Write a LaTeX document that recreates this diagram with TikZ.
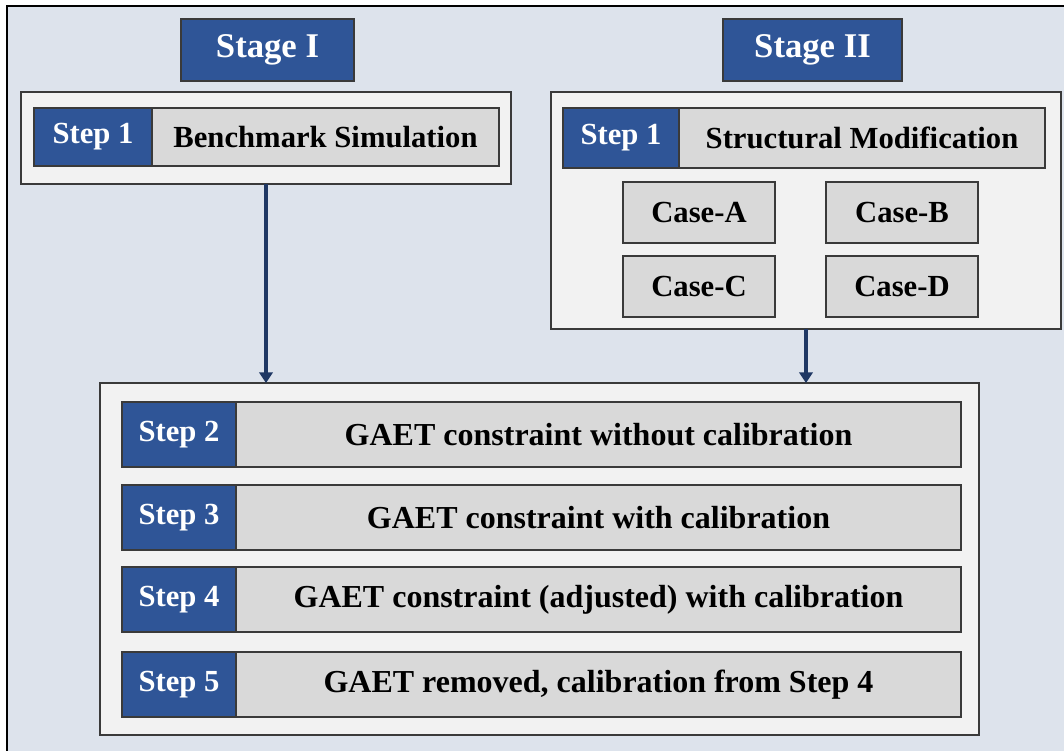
\documentclass[tikz,border=0pt]{standalone}
\usepackage{fontspec}
\setmainfont{Liberation Serif}
\usetikzlibrary{positioning,arrows.meta}
\definecolor{stageblue}{HTML}{2F5597}
\definecolor{boxgray}{HTML}{D9D9D9}
\definecolor{panelwhite}{HTML}{F2F2F2}
\definecolor{backdrop}{HTML}{DDE3EC}
\definecolor{arrownavy}{HTML}{1F3864}
\definecolor{edgegray}{HTML}{3A3A3A}
\begin{document}
\begin{tikzpicture}[x=0.75pt,y=-0.75pt]
        \tikzstyle{every node}=[inner sep=0pt, outer sep=0pt, anchor=north west, font=\bfseries\fontsize{23}{27}\selectfont]
        \tikzstyle{stagebox}=[draw=edgegray, line width=1.1pt, fill=stageblue, text=white, minimum height=46.5pt, font=\bfseries\fontsize{26}{30}\selectfont]
        \tikzstyle{panel}=[draw=edgegray, line width=1.1pt, fill=panelwhite]
        \tikzstyle{steplabel}=[draw=edgegray, line width=1.1pt, fill=stageblue, text=white]
        \tikzstyle{steptext}=[draw=edgegray, line width=1.1pt, fill=boxgray]
        \tikzstyle{casebox}=[draw=edgegray, line width=1.1pt, fill=boxgray, minimum width=114pt, minimum height=45.75pt]
        \tikzstyle{flow}=[draw=arrownavy, line width=3pt, -{Triangle[length=8pt, width=10pt]}]
        \useasboundingbox (0,0) rectangle (1064,751);
        \fill[backdrop] (7,6) rectangle (1064,751);
        \draw[line width=1.4pt] (1064,6) -- (7,6) -- (7,751);
        % stage headers
        \node[stagebox, minimum width=129.75pt] (stageI) at (181,19) {Stage I};
        \node[stagebox, minimum width=134.25pt] (stageII) at (723,19) {Stage II};
        % stage I panel
        \node[panel, minimum width=367.5pt, minimum height=69pt] (panelI) at (21,92) {};
        \node[steplabel, minimum width=88.5pt, minimum height=43.5pt] (stepIa) at (34,108) {Step 1};
        \node[steptext, right=0pt of stepIa, minimum width=260.25pt, minimum height=43.5pt] (benchmark) {Benchmark Simulation};
        % stage II panel
        \node[panel, minimum width=382.5pt, minimum height=177.75pt] (panelII) at (551,92) {};
        \node[steplabel, minimum width=87pt, minimum height=45pt] (stepIIa) at (563,108) {Step 1};
        \node[steptext, right=0pt of stepIIa, minimum width=274.5pt, minimum height=45pt] (modification) {Structural Modification};
        \node[casebox] (caseA) at (623,182) {Case-A};
        \node[casebox, right=38.25pt of caseA] (caseB) {Case-B};
        \node[casebox, below=9.75pt of caseA] (caseC) {Case-C};
        \node[casebox, below=9.75pt of caseB] (caseD) {Case-D};
        % common steps
        \node[panel, minimum width=659.25pt, minimum height=264pt] (panelB) at (100,383) {};
        \node[steplabel, minimum width=85.5pt, minimum height=48.75pt] (step2) at (122,402) {Step 2};
        \node[steptext, right=0pt of step2, minimum width=543.75pt, minimum height=48.75pt, font=\bfseries\fontsize{24}{28}\selectfont] (text2) {GAET constraint without calibration};
        \node[steplabel, minimum width=85.5pt, minimum height=48.75pt] (step3) at (122,485) {Step 3};
        \node[steptext, right=0pt of step3, minimum width=543.75pt, minimum height=48.75pt, font=\bfseries\fontsize{24}{28}\selectfont] (text3) {GAET constraint with calibration};
        \node[steplabel, minimum width=85.5pt, minimum height=48.75pt] (step4) at (122,567) {Step 4};
        \node[steptext, right=0pt of step4, minimum width=543.75pt, minimum height=48.75pt, font=\bfseries\fontsize{24}{28}\selectfont] (text4) {GAET constraint (adjusted) with calibration};
        \node[steplabel, minimum width=85.5pt, minimum height=48.75pt] (step5) at (122,652) {Step 5};
        \node[steptext, right=0pt of step5, minimum width=543.75pt, minimum height=48.75pt, font=\bfseries\fontsize{24}{28}\selectfont] (text5) {GAET removed, calibration from Step 4};
        % connectors
        \draw[flow] (panelI.south) -- (panelI.south |- panelB.north);
        \draw[flow] (panelII.south) -- (panelII.south |- panelB.north);
    \end{tikzpicture}
\end{document}
